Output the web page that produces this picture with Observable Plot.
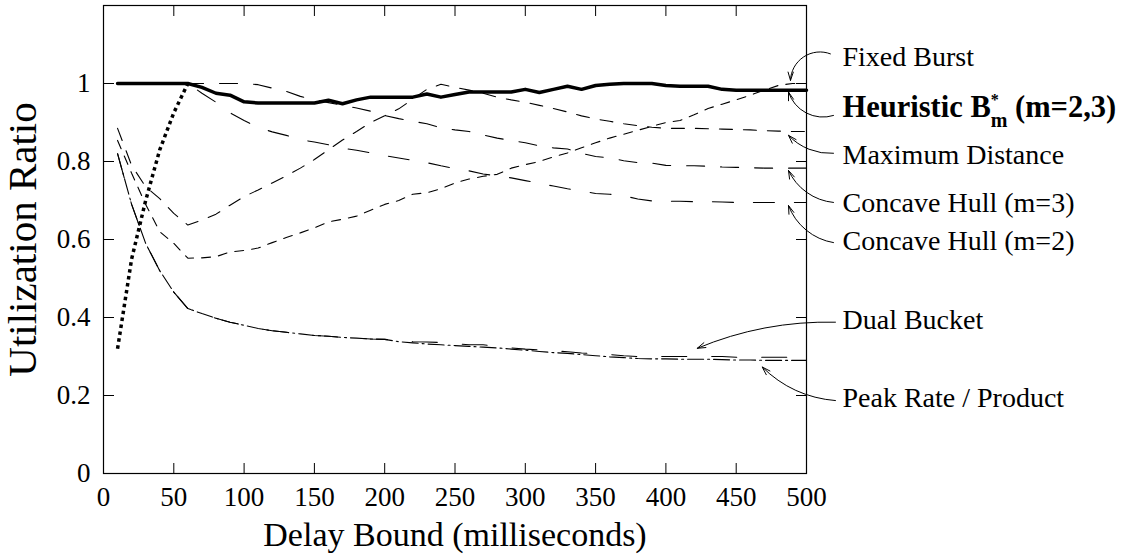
<!DOCTYPE html>
<html>
<head>
<meta charset="utf-8">
<script src="https://cdn.jsdelivr.net/npm/d3@7"></script>
<script src="https://cdn.jsdelivr.net/npm/@observablehq/plot@0.6"></script>
<style>
  html, body { margin: 0; padding: 0; background: white; }
</style>
</head>
<body>
<div id="chart"></div>
<script>
// Delay bound (ms)
const delay = [10,20,30,40,50,60,70,80,90,100,110,120,130,140,150,160,170,180,190,200,
  210,220,230,240,250,260,270,280,290,300,310,320,330,340,350,360,370,380,390,400,
  410,420,430,440,450,460,470,480,490,500];

const heuristic = [1,1,1,1,1,1,0.99,0.975,0.97,0.953,0.95,0.95,0.95,0.95,0.95,0.957,0.948,0.958,0.965,0.965,
  0.965,0.965,0.973,0.965,0.972,0.978,0.978,0.978,0.978,0.985,0.977,0.985,0.993,0.985,0.995,0.998,1,1,1,0.995,
  0.993,0.993,0.993,0.985,0.983,0.983,0.983,0.983,0.983,0.983];

const heuristicDelay = [10,20,30,40,50,60];
const heuristicM3 = [0.32,0.55,0.70,0.83,0.925,1.0];

const fixedBurst = [0.854,0.77,0.69,0.62,0.59,0.552,0.553,0.556,0.568,0.572,0.578,0.592,0.605,0.617,0.63,0.645,0.652,0.66,0.675,0.69,
  0.70,0.716,0.72,0.73,0.745,0.755,0.762,0.767,0.783,0.792,0.80,0.812,0.822,0.835,0.848,0.86,0.87,0.88,0.89,0.9,
  0.905,0.92,0.936,0.947,0.958,0.97,0.983,0.995,1.0,1.0];

const maxDistance = [0.885,0.79,0.735,0.705,0.667,0.637,0.65,0.665,0.688,0.71,0.727,0.745,0.763,0.783,0.805,0.83,0.855,0.877,0.9,0.917,
  0.935,0.96,0.985,0.998,0.99,0.983,0.975,0.965,0.958,0.952,0.944,0.936,0.927,0.917,0.909,0.903,0.897,0.892,0.888,0.885,
  0.885,0.885,0.884,0.883,0.882,0.881,0.879,0.878,0.877,0.877];

const concaveM3 = [1,1,1,1,1,1,1,1,1,1,0.997,0.988,0.98,0.967,0.958,0.951,0.944,0.937,0.929,0.918,
  0.91,0.903,0.897,0.886,0.881,0.877,0.868,0.86,0.854,0.848,0.84,0.835,0.832,0.821,0.813,0.809,0.802,0.797,0.796,0.79,
  0.789,0.789,0.788,0.786,0.785,0.784,0.783,0.783,0.783,0.783];

const concaveM2 = [1,1,1,1,1,1,0.975,0.952,0.925,0.905,0.887,0.876,0.867,0.856,0.85,0.843,0.834,0.829,0.822,0.815,
  0.809,0.803,0.797,0.789,0.782,0.776,0.768,0.763,0.758,0.751,0.744,0.737,0.73,0.724,0.718,0.716,0.712,0.704,0.699,0.698,
  0.698,0.697,0.697,0.696,0.695,0.695,0.695,0.695,0.695,0.695];

const dualBucket = [0.82,0.69,0.59,0.52,0.465,0.423,0.41,0.398,0.388,0.38,0.372,0.366,0.362,0.358,0.354,0.352,0.349,0.347,0.345,0.344,
  0.34,0.338,0.337,0.336,0.333,0.33,0.33,0.326,0.322,0.319,0.317,0.315,0.312,0.309,0.307,0.305,0.302,0.3,0.3,0.3,
  0.3,0.3,0.3,0.3,0.298,0.298,0.298,0.298,0.298,0.298];

const peakRate = [0.82,0.69,0.59,0.52,0.465,0.423,0.41,0.398,0.388,0.38,0.372,0.366,0.362,0.358,0.354,0.352,0.349,0.347,0.345,0.344,
  0.338,0.335,0.332,0.33,0.328,0.326,0.324,0.322,0.319,0.316,0.313,0.31,0.308,0.305,0.302,0.299,0.297,0.295,0.294,0.294,
  0.293,0.293,0.293,0.292,0.291,0.291,0.29,0.29,0.29,0.29];

// Axis ticks
const xTicks = [0,50,100,150,200,250,300,350,400,450,500];
const yTicks = [0,0.2,0.4,0.6,0.8,1];
const yTickLabels = ["0","0.2","0.4","0.6","0.8","1"];

// Annotations (labels right of the frame, arrows to the curves)
const labelNames = ["Fixed Burst","Heuristic B*m (m=2,3)","Maximum Distance","Concave Hull (m=3)","Concave Hull (m=2)","Dual Bucket","Peak Rate / Product"];
const labelX = [525.6,525.6,525.6,525.6,525.6,525.6,525.6];
const labelY = [1.044,0.914,0.794,0.67,0.572,0.371,0.17];
const arrowFromX = [517,519.2,519.2,519.2,519.2,520.6,520.6];
const arrowFromY = [1.076,0.918,0.821,0.695,0.592,0.388,0.187];
const arrowToX = [488.6,487.2,487.2,487.2,487.2,422.3,468.5];
const arrowToY = [1.008,0.978,0.867,0.777,0.687,0.321,0.273];
const arrowBend = [-55,45,25,30,30,-12,20];

const rows = (ys, xs = delay) => xs.map((x, i) => ({x, y: ys[i]}));
const labels = labelNames.map((t, i) => ({t, x: labelX[i], y: labelY[i]}));
const arrows = labelNames.map((t, i) => ({x1: arrowFromX[i], y1: arrowFromY[i], x2: arrowToX[i], y2: arrowToY[i]}));

const thin = {x: "x", y: "y", stroke: "black", strokeWidth: 1.1, strokeLinejoin: "miter"};

const arrowMarks = arrows.map((a, i) =>
  Plot.arrow([a], {x1: "x1", y1: "y1", x2: "x2", y2: "y2", bend: arrowBend[i], stroke: "black", strokeWidth: 1, headLength: 13, headAngle: 35}));

const chart = Plot.plot({
  width: 1142,
  height: 556,
  marginLeft: 103,
  marginRight: 336,
  marginTop: 5,
  marginBottom: 83,
  style: {fontFamily: "'Liberation Serif', 'Times New Roman', serif", fontSize: "27px", background: "white", color: "black"},
  x: {domain: [0, 500], axis: null},
  y: {domain: [0, 1.2], axis: null},
  marks: [
    Plot.frame({stroke: "black", strokeWidth: 1.2}),
    // inward ticks
    Plot.axisX(xTicks, {anchor: "bottom", tickSize: 10, dy: -10, tickFormat: () => "", label: null}),
    Plot.axisX(xTicks, {anchor: "top", tickSize: 10, dy: 10, tickFormat: () => "", label: null}),
    Plot.axisY(yTicks, {anchor: "left", tickSize: 11, dx: 11, tickFormat: () => "", label: null}),
    Plot.axisY(yTicks, {anchor: "right", tickSize: 11, dx: -11, tickFormat: () => "", label: null}),
    // tick labels
    Plot.axisX(xTicks, {anchor: "bottom", tickSize: 0, tickPadding: 13, fontSize: 27, label: null}),
    Plot.axisY(yTicks, {anchor: "left", tickSize: 0, tickPadding: 13, fontSize: 27, label: null, tickFormat: (d, i) => yTickLabels[i]}),
    // axis titles
    Plot.text(["Delay Bound (milliseconds)"], {frameAnchor: "bottom", dy: 72, lineAnchor: "bottom", fontSize: 34}),
    Plot.text(["Utilization Ratio"], {frameAnchor: "left", dx: -68, rotate: -90, textAnchor: "middle", lineAnchor: "bottom", fontSize: 41}),
    // series
    Plot.line(rows(peakRate), {...thin, strokeDasharray: "16,4,2,4"}),
    Plot.line(rows(dualBucket), {...thin, strokeDasharray: "25,25"}),
    Plot.line(rows(concaveM2), {...thin, strokeDasharray: "21,20"}),
    Plot.line(rows(concaveM3), {...thin, strokeDasharray: "18,16"}),
    Plot.line(rows(maxDistance), {...thin, strokeDasharray: "13,11"}),
    Plot.line(rows(fixedBurst), {...thin, strokeDasharray: "9,8"}),
    Plot.line(rows(heuristic), {x: "x", y: "y", stroke: "black", strokeWidth: 3.5}),
    Plot.line(rows(heuristicM3, heuristicDelay), {x: "x", y: "y", stroke: "black", strokeWidth: 3.5, strokeDasharray: "3.5,3.5", strokeLinecap: "butt"}),
    // annotations
    ...arrowMarks,
    Plot.text(labels.filter((d, i) => i !== 1), {x: "x", y: "y", text: "t", textAnchor: "start", lineAnchor: "bottom", fontSize: 28}),
    Plot.text(labels.filter((d, i) => i === 1), {x: "x", y: "y", text: "t", textAnchor: "start", lineAnchor: "bottom", fontSize: 30.5, fontWeight: "bold"})
  ]
});

// rich text for the heuristic label: B with superscript * and subscript m
for (const el of chart.querySelectorAll("text")) {
  if (el.textContent === "Heuristic B*m (m=2,3)") {
    el.textContent = "";
    const ns = "http://www.w3.org/2000/svg";
    const parts = [
      {t: "Heuristic B", attrs: {}},
      {t: "*", attrs: {dy: "-12", "font-size": "16"}},
      {t: "m", attrs: {dx: "-8", dy: "22", "font-size": "20"}},
      {t: " (m=2,3)", attrs: {dy: "-10"}}
    ];
    for (const p of parts) {
      const ts = document.createElementNS(ns, "tspan");
      for (const [k, v] of Object.entries(p.attrs)) ts.setAttribute(k, v);
      ts.textContent = p.t;
      el.appendChild(ts);
    }
  }
}
document.getElementById("chart").appendChild(chart);
</script>
</body>
</html>
